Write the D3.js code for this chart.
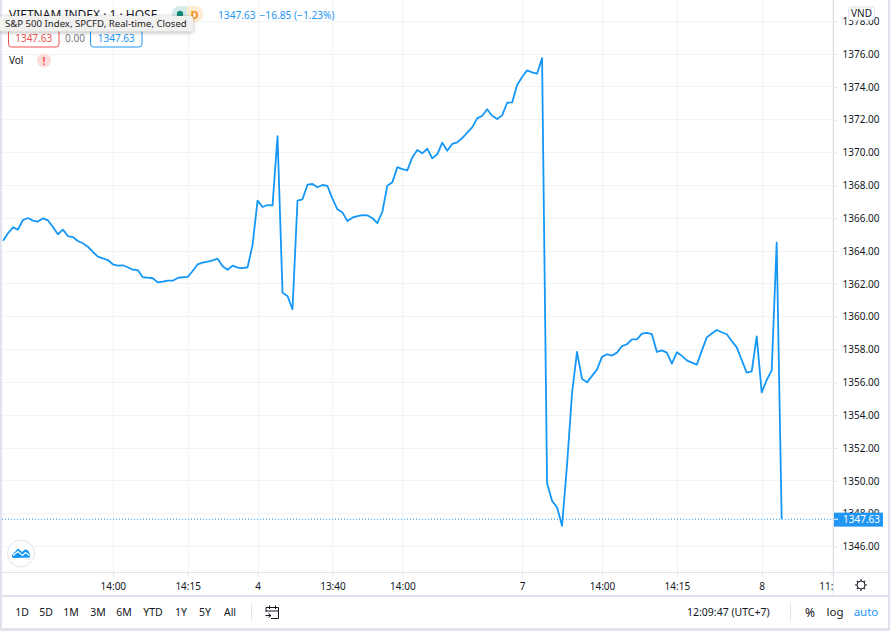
<!DOCTYPE html>
<html>
<head>
<meta charset="utf-8">
<script src="https://cdnjs.cloudflare.com/ajax/libs/d3/7.8.5/d3.min.js"></script>
<style>
html, body { margin: 0; padding: 0; background: #fff; overflow: hidden; }
svg { display: block; }
text { font-family: "Noto Sans", sans-serif; font-size: 10px; fill: #131722; }
.axis path { display: none; }
.axis line { stroke: #e0e3eb; }
</style>
</head>
<body>
<div id="chart"></div>
<script>
//Index closes, one value per bar
var closes = [
  1364.60,1365.05,1365.41,1365.27,1365.86,1365.98,1365.82,1365.76,1365.96,1365.84,
  1365.43,1364.99,1365.27,1364.88,1364.82,1364.58,1364.44,1364.23,1363.91,1363.63,
  1363.52,1363.42,1363.16,1363.08,1363.10,1362.98,1362.83,1362.81,1362.37,1362.35,
  1362.31,1362.06,1362.10,1362.16,1362.16,1362.33,1362.37,1362.39,1362.75,1363.16,
  1363.26,1363.32,1363.40,1363.50,1363.04,1362.83,1363.08,1362.96,1362.92,1362.98,
  1364.34,1367.04,1366.65,1366.77,1366.75,1370.97,1361.43,1361.23,1360.42,1367.04,
  1367.12,1368.01,1368.05,1367.85,1367.99,1367.93,1367.16,1366.51,1366.32,1365.80,
  1366.00,1366.10,1366.16,1366.14,1365.98,1365.67,1366.36,1367.95,1368.15,1369.08,
  1368.96,1368.88,1369.67,1370.12,1369.92,1370.20,1369.61,1369.86,1370.57,1370.08,
  1370.49,1370.59,1370.85,1371.18,1371.50,1372.05,1372.21,1372.60,1372.21,1372.01,
  1372.23,1373.00,1373.02,1374.08,1374.57,1374.97,1374.85,1374.77,1375.72,
  1349.82,1348.75,1348.36,1347.23,1350.94,1355.30,
  1357.82,1356.18,1355.97,1356.36,1356.74,1357.52,1357.68,1357.60,1357.78,1358.17,
  1358.29,1358.59,1358.59,1358.94,1358.98,1358.90,1357.82,1357.92,1357.78,1357.11,
  1357.80,1357.58,1357.31,1357.17,1357.05,1357.90,1358.71,1358.94,1359.16,1359.02,
  1358.90,1358.49,1358.10,1357.33,1356.56,1356.64,1358.77,1355.36,1356.11,1356.70,
  1364.48,1347.63
];
var lastPrice = 1347.63;

var priceTicks = [1346,1348,1350,1352,1354,1356,1358,1360,1362,1364,1366,1368,1370,1372,1374,1376,1378];
var timeTickBars = [22,37,51,66,80,104,120,135,152,166];
var timeTickLabels = ["14:00","14:15","4","13:40","14:00","7","14:00","14:15","8","11:00"];
var rangeLabels = ["1D","5D","1M","3M","6M","YTD","1Y","5Y","All"];
var rangeCentres = [22,46,71,98,124,153,181,205,230];

var width = 890, height = 633;
var paneLeft = 2, paneRight = 833.5, paneBottom = 572;
var lineBlue = "#1597f8", labelBlue = "#2196f3", red = "#ef5350", grid = "#f2f3f5", edge = "#e0e3eb";

var svg = d3.select("#chart").append("svg")
    .attr("width", width)
    .attr("height", height);

//Frame around the widget
svg.append("rect").attr("width", width).attr("height", height).attr("fill", "#fff");
svg.append("rect").attr("x", 0).attr("y", 0).attr("width", paneLeft).attr("height", 628).attr("fill", edge);
svg.append("rect").attr("x", 888).attr("y", 0).attr("width", 2).attr("height", 628).attr("fill", edge);
svg.append("rect").attr("x", 0).attr("y", 628).attr("width", width).attr("height", 3).attr("fill", edge);

var x = d3.scaleLinear().domain([0, closes.length - 1]).range([3, 781.67]);
var y = d3.scaleLinear().domain([1346, 1376]).range([546, 53.5]);

//Grid
svg.append("g").selectAll("line")
    .data(priceTicks)
    .enter().append("line")
    .attr("x1", paneLeft).attr("x2", paneRight)
    .attr("y1", function(d) { return Math.round(y(d)) + 0.5; })
    .attr("y2", function(d) { return Math.round(y(d)) + 0.5; })
    .attr("stroke", grid);

svg.append("g").selectAll("line")
    .data(timeTickBars)
    .enter().append("line")
    .attr("x1", function(d) { return Math.round(x(d)) + 0.5; })
    .attr("x2", function(d) { return Math.round(x(d)) + 0.5; })
    .attr("y1", 0).attr("y2", paneBottom)
    .attr("stroke", grid);

//Price axis
var priceAxis = svg.append("g")
    .attr("class", "axis")
    .attr("transform", "translate(" + paneRight + ",0.5)")
    .call(d3.axisRight(y).tickValues(priceTicks).tickSize(4).tickPadding(5).tickFormat(d3.format(".2f")));
priceAxis.selectAll("text").style("font-size", "10px").style("font-family", "\"Noto Sans\", sans-serif").attr("fill", "#131722");

//Time axis, the last label is cut by the price axis
svg.append("clipPath").attr("id", "timeClip")
    .append("rect").attr("x", 0).attr("y", 560).attr("width", paneRight).attr("height", 40);
var timeAxis = svg.append("g")
    .attr("class", "axis")
    .attr("clip-path", "url(#timeClip)")
    .append("g")
    .attr("transform", "translate(0," + paneBottom + ".5)")
    .call(d3.axisBottom(x).tickValues(timeTickBars).tickSize(4).tickPadding(6)
        .tickFormat(function(d, i) { return timeTickLabels[i]; }));
timeAxis.selectAll("text").style("font-size", "10px").style("font-family", "\"Noto Sans\", sans-serif").attr("fill", "#131722");

svg.append("line").attr("x1", paneLeft).attr("x2", 888).attr("y1", paneBottom + 0.5).attr("y2", paneBottom + 0.5).attr("stroke", edge);
svg.append("line").attr("x1", paneRight).attr("x2", paneRight).attr("y1", 0).attr("y2", 596).attr("stroke", edge);
svg.append("rect").attr("x", paneLeft).attr("y", 595).attr("width", 886).attr("height", 2).attr("fill", edge);

//Price line
svg.append("path")
    .datum(closes)
    .attr("fill", "none")
    .attr("stroke", lineBlue)
    .attr("stroke-width", 1.8)
    .attr("stroke-linejoin", "round")
    .attr("d", d3.line().x(function(d, i) { return x(i); }).y(function(d) { return y(d); }));

//Last price marker
svg.append("line")
    .attr("x1", paneLeft).attr("x2", paneRight)
    .attr("y1", y(lastPrice)).attr("y2", y(lastPrice))
    .attr("stroke", labelBlue)
    .attr("stroke-dasharray", "1,2");
svg.append("rect")
    .attr("x", 834).attr("y", y(lastPrice) - 6.6)
    .attr("width", 49).attr("height", 14)
    .attr("fill", labelBlue);
svg.append("line")
    .attr("x1", 834).attr("x2", 838).attr("y1", y(lastPrice)).attr("y2", y(lastPrice))
    .attr("stroke", "#fff");
svg.append("text")
    .attr("x", 843).attr("y", y(lastPrice) + 4)
    .style("fill", "#fff")
    .text(d3.format(".2f")(lastPrice));

//Currency badge
svg.append("rect")
    .attr("x", 848.5).attr("y", 7).attr("width", 26).attr("height", 13).attr("rx", 3)
    .attr("fill", "#fff").attr("stroke", edge);
svg.append("text").attr("x", 861.5).attr("y", 17).attr("text-anchor", "middle").text("VND");

//Legend
svg.append("text").attr("x", 9).attr("y", 19).style("font-size", "12px").text("VIETNAM INDEX \u00b7 1 \u00b7 HOSE");
svg.append("circle").attr("cx", 195).attr("cy", 14).attr("r", 8).attr("fill", "#fdeccf");
svg.append("circle").attr("cx", 180).attr("cy", 14).attr("r", 8).attr("fill", "#d5ecea");
svg.append("rect").attr("x", 180).attr("y", 6).attr("width", 15).attr("height", 16).attr("fill", "#fdeccf");
svg.append("path").attr("d", "M187,6 H180 a8,8 0 0 0 0,16 H187 Z").attr("fill", "#d5ecea");
svg.append("circle").attr("cx", 180).attr("cy", 14).attr("r", 3.2).attr("fill", "#138a7d");
svg.append("text").attr("x", 194.5).attr("y", 18.5).attr("text-anchor", "middle").style("fill", "#f5921b").style("font-size", "11px").style("font-weight", "bold").text("D");
svg.append("text").attr("x", 218).attr("y", 19).style("fill", labelBlue).style("font-size", "10.2px").text("1347.63");
svg.append("text").attr("x", 259.5).attr("y", 19).style("fill", labelBlue).style("font-size", "10.2px").text("\u221216.85 (\u22121.23%)");

svg.append("rect").attr("x", 8.5).attr("y", 29.5).attr("width", 50.5).attr("height", 17.5).attr("rx", 3).attr("fill", "#fff").attr("stroke", red);
svg.append("text").attr("x", 33.7).attr("y", 42).attr("text-anchor", "middle").style("fill", red).text("1347.63");
svg.append("text").attr("x", 75).attr("y", 41.5).attr("text-anchor", "middle").style("fill", "#787b86").text("0.00");
svg.append("rect").attr("x", 90.5).attr("y", 29.5).attr("width", 51.5).attr("height", 17.5).attr("rx", 3).attr("fill", "#fff").attr("stroke", labelBlue);
svg.append("text").attr("x", 116.3).attr("y", 42).attr("text-anchor", "middle").style("fill", labelBlue).text("1347.63");

svg.append("text").attr("x", 9).attr("y", 64).text("Vol");
svg.append("circle").attr("cx", 44).attr("cy", 60.5).attr("r", 7).attr("fill", "#fddcdc");
svg.append("text").attr("x", 44).attr("y", 64.5).attr("text-anchor", "middle").style("fill", red).style("font-weight", "bold").text("!");

//Tooltip over the title
svg.append("rect")
    .attr("x", 0).attr("y", 16).attr("width", 193).attr("height", 15.5).attr("rx", 2)
    .attr("fill", "#f1f1f0")
    .style("filter", "drop-shadow(0 1px 2px rgba(0,0,0,0.3))");
svg.append("text").attr("x", 5).attr("y", 27).style("fill", "#222").style("font-size", "9.6px").text("S&P 500 Index, SPCFD, Real-time, Closed");

//Logo button
svg.append("circle").attr("cx", 21).attr("cy", 553.5).attr("r", 13.5).attr("fill", "#fff").attr("stroke", edge);
svg.append("path")
    .attr("d", "M12,555 L18,548.5 L22,552 L25,549.5 Q28.5,549.5 29,552.5 Q31,554.5 29.5,557.5 L14,558 Q11.5,557.5 12,555 Z")
    .attr("fill", "#1597f8");
svg.append("path")
    .attr("d", "M13,555.5 L18,551.5 L22.5,555.5 L25.5,552.5 L29.5,555.5")
    .attr("fill", "none").attr("stroke", "#fff").attr("stroke-width", 1.2);

//Settings icon
svg.append("circle").attr("cx", 861).attr("cy", 585).attr("r", 4).attr("fill", "none").attr("stroke", "#131722");
svg.append("g").selectAll("line")
    .data([0, 45, 90, 135, 180, 225, 270, 315])
    .enter().append("line")
    .attr("x1", 861).attr("x2", 861).attr("y1", 579).attr("y2", 581)
    .attr("transform", function(d) { return "rotate(" + d + " 861 585)"; })
    .attr("stroke", "#131722");

//Bottom toolbar
svg.append("g").selectAll("text")
    .data(rangeLabels)
    .enter().append("text")
    .attr("x", function(d, i) { return rangeCentres[i]; })
    .attr("y", 616)
    .attr("text-anchor", "middle")
    .style("font-size", "10.5px")
    .text(function(d) { return d; });
svg.append("line").attr("x1", 251.5).attr("x2", 251.5).attr("y1", 603).attr("y2", 621).attr("stroke", edge);
svg.append("path")
    .attr("d", "M266,612 V607.5 H278.5 V618.5 H271 M266,611 H278.5 M269.5,605.5 V609 M275.5,605.5 V609 M265.5,615.5 H271 M268.5,613.5 L271,615.5 L268.5,617.5")
    .attr("fill", "none").attr("stroke", "#131722");

svg.append("text").attr("x", 687).attr("y", 616).style("font-size", "10.5px").text("12:09:47 (UTC+7)");
svg.append("line").attr("x1", 790.5).attr("x2", 790.5).attr("y1", 603).attr("y2", 621).attr("stroke", edge);
svg.append("text").attr("x", 810).attr("y", 617).attr("text-anchor", "middle").style("font-size", "12px").text("%");
svg.append("text").attr("x", 835).attr("y", 616).attr("text-anchor", "middle").style("font-size", "11.5px").text("log");
svg.append("text").attr("x", 866).attr("y", 616).attr("text-anchor", "middle").style("font-size", "11.5px").style("fill", labelBlue).text("auto");
</script>
</body>
</html>
